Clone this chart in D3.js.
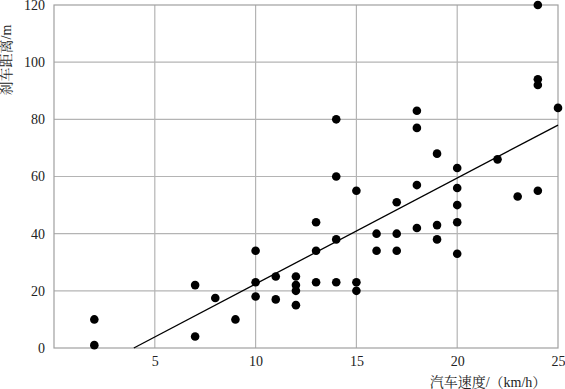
<!DOCTYPE html>
<html>
<head>
<meta charset="utf-8">
<script src="https://cdn.jsdelivr.net/npm/d3@7"></script>
<style>
  body { margin: 0; background: #fff; }
  svg text { font-family: "Liberation Serif", "Times New Roman", "DejaVu Serif", "Noto Serif CJK SC", "Noto Sans CJK SC", serif; fill: #222; }
</style>
</head>
<body>
<svg id="chart"></svg>
<script>
// 汽车速度 (km/h)
const speed = [2, 2, 7, 7, 8, 9, 10, 10, 10, 11, 11, 12, 12, 12, 12, 13, 13, 13,
  14, 14, 14, 14, 15, 15, 15, 16, 16, 17, 17, 17, 18, 18, 18, 18, 19, 19, 19,
  20, 20, 20, 20, 20, 22, 23, 24, 24, 24, 24, 25];
// 刹车距离 (m)
const dist = [1, 10, 4, 22, 17.5, 10, 18, 23, 34, 17, 25, 15, 20, 22, 25, 23, 34, 44,
  23, 38, 60, 80, 20, 23, 55, 34, 40, 34, 40, 51, 42, 57, 77, 83, 38, 43, 68,
  33, 44, 50, 56, 63, 66, 53, 55, 92, 94, 120, 84];
// 回归直线端点
const fitX = [3.96, 25];
const fitY = [0, 78];
const xTicks = [5, 10, 15, 20, 25];
const yTicks = [0, 20, 40, 60, 80, 100, 120];

const width = 565;
const height = 389;
const marge = { top: 5, right: 7, bottom: 41, left: 54 };
const fontStack = "'Liberation Serif', 'Times New Roman', 'DejaVu Serif', 'Noto Serif CJK SC', 'Noto Sans CJK SC', serif";

const svg = d3.select("#chart").attr("width", width).attr("height", height);

const xScale = d3.scaleLinear().domain([0, 25]).range([marge.left, width - marge.right]);
const yScale = d3.scaleLinear().domain([0, 120]).range([height - marge.bottom, marge.top]);

// 网格
const grid = svg.append("g");
grid.selectAll("line.v")
  .data(xTicks.slice(0, -1))
  .enter().append("line")
  .attr("x1", d => xScale(d)).attr("x2", d => xScale(d))
  .attr("y1", yScale(0)).attr("y2", yScale(120))
  .attr("stroke", "#b4b4b4").attr("stroke-width", 1.2);
grid.selectAll("line.h")
  .data(yTicks.slice(1, -1))
  .enter().append("line")
  .attr("x1", xScale(0)).attr("x2", xScale(25))
  .attr("y1", d => yScale(d)).attr("y2", d => yScale(d))
  .attr("stroke", "#b4b4b4").attr("stroke-width", 1.2);

// 边框
svg.append("rect")
  .attr("x", xScale(0)).attr("y", yScale(120))
  .attr("width", xScale(25) - xScale(0))
  .attr("height", yScale(0) - yScale(120))
  .attr("fill", "none").attr("stroke", "#a0a0a0").attr("stroke-width", 1.2);

// 坐标轴
const xAxis = d3.axisBottom(xScale).tickValues(xTicks).tickSize(0).tickPadding(8);
const gax = svg.append("g").attr("transform", `translate(0,${yScale(0)})`).call(xAxis);
const yAxis = d3.axisLeft(yScale).tickValues(yTicks).tickSize(0).tickPadding(9);
const gay = svg.append("g").attr("transform", `translate(${xScale(0)},0)`).call(yAxis);
[gax, gay].forEach(g => {
  g.attr("font-family", null);
  g.select(".domain").remove();
  g.selectAll("text").attr("font-size", 14).attr("fill", "#222")
    .style("font-family", fontStack);
});

// 回归直线
svg.append("line")
  .attr("x1", xScale(fitX[0])).attr("y1", yScale(fitY[0]))
  .attr("x2", xScale(fitX[1])).attr("y2", yScale(fitY[1]))
  .attr("stroke", "#000").attr("stroke-width", 1.3);

// 散点
svg.append("g").selectAll("circle")
  .data(speed)
  .enter().append("circle")
  .attr("cx", d => xScale(d))
  .attr("cy", (d, i) => yScale(dist[i]))
  .attr("r", 4.3)
  .attr("fill", "#000");

// 标题
svg.append("text")
  .attr("x", 488).attr("y", 387)
  .attr("text-anchor", "middle")
  .attr("font-size", 14)
  .style("font-family", fontStack)
  .text("汽车速度/（km/h）");
svg.append("text")
  .attr("transform", "translate(11,60) rotate(-90)")
  .attr("text-anchor", "middle")
  .attr("font-size", 14)
  .style("font-family", fontStack)
  .text("刹车距离/m");
</script>
</body>
</html>
